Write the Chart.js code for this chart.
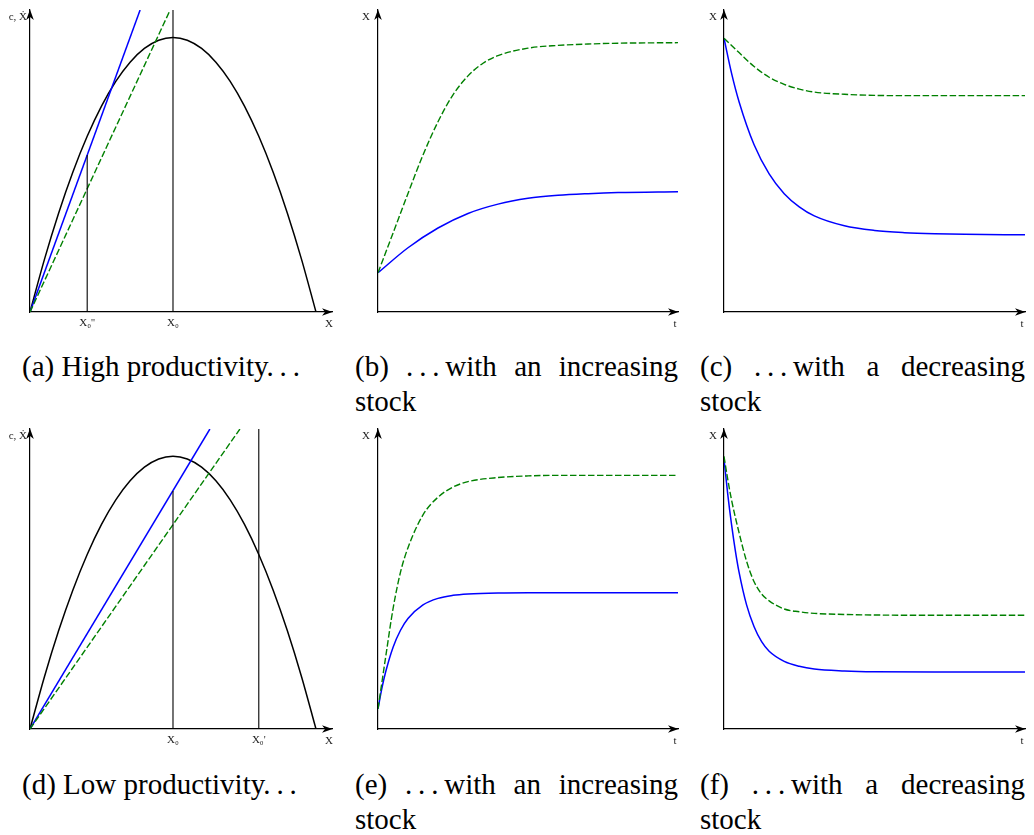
<!DOCTYPE html>
<html><head><meta charset="utf-8">
<script src="https://cdn.jsdelivr.net/npm/chart.js@4"></script>
<style>
html,body{margin:0;padding:0;background:#fff;}
body{width:1034px;height:835px;position:relative;overflow:hidden;font-family:"Liberation Serif","Times New Roman",serif;}
canvas.panel{position:absolute;}
.cap{position:absolute;font-size:29px;line-height:35px;color:#000;}
</style></head><body>
<canvas id="pa" class="panel"></canvas>
<canvas id="pb" class="panel"></canvas>
<canvas id="pc" class="panel"></canvas>
<canvas id="pd" class="panel"></canvas>
<canvas id="pe" class="panel"></canvas>
<canvas id="pf" class="panel"></canvas>
<div class="cap" style="left:22px;top:349px;white-space:nowrap">(a) High productivity.&#8201;.&#8201;.</div>
<div class="cap" style="left:355px;top:349px;width:323px;text-align:justify">(b) .&#8201;.&#8201;.&#8201;with an increasing stock</div>
<div class="cap" style="left:700px;top:349px;width:325px;text-align:justify">(c) .&#8201;.&#8201;.&#8201;with a decreasing stock</div>
<div class="cap" style="left:22px;top:767px;white-space:nowrap">(d) Low productivity.&#8201;.&#8201;.</div>
<div class="cap" style="left:355px;top:767px;width:323px;text-align:justify">(e) .&#8201;.&#8201;.&#8201;with an increasing stock</div>
<div class="cap" style="left:700px;top:767px;width:325px;text-align:justify">(f) .&#8201;.&#8201;.&#8201;with a decreasing stock</div>
<script>
// ---------- data ----------
// growth curve (panels a and d), X on horizontal axis
const growthX = [0,0.05,0.1,0.15,0.2,0.25,0.3,0.35,0.4,0.45,0.5,0.55,0.6,0.65,0.7,0.75,0.8,0.85,0.9,0.95,1];
const growthHighY = [0,0.19,0.36,0.51,0.64,0.75,0.84,0.91,0.96,0.99,1,0.99,0.96,0.91,0.84,0.75,0.64,0.51,0.36,0.19,0];
const growthLowY  = [0,0.19,0.36,0.51,0.64,0.75,0.84,0.91,0.96,0.99,1,0.99,0.96,0.91,0.84,0.75,0.64,0.51,0.36,0.19,0];
// harvest rays, panel (a)
const rayHighBlueX = [0,0.385];  const rayHighBlueY = [0,1.1];
const rayHighGreenX = [0,0.49];  const rayHighGreenY = [0,1.1];
// harvest rays, panel (d)
const rayLowBlueX = [0,0.629];   const rayLowBlueY = [0,1.1];
const rayLowGreenX = [0,0.734];  const rayLowGreenY = [0,1.1];
// vertical markers
const markA = [{x:0.2, top:0.572}, {x:0.5, top:1.1}];
const markD = [{x:0.5, top:0.873}, {x:0.8, top:1.1}];
const tickValsA = [0.2, 0.5];  const tickLabelsA = ["X\u2080''", "X\u2080"];
const tickValsD = [0.5, 0.8];  const tickLabelsD = ["X\u2080", "X\u2080'"];
// panel (b)
const tBGreen = [0,0.5,1,1.5,2,2.5,3,3.5,4,5,6,7,8,10];
const bGreen  = [0.143,0.287,0.432,0.572,0.693,0.791,0.860,0.906,0.934,0.961,0.971,0.976,0.979,0.981];
const tBBlue  = [0,1,2,3,4,5,6,7,8,10];
const bBlue   = [0.143,0.234,0.306,0.359,0.393,0.414,0.425,0.431,0.435,0.438];
// panel (c)
const tCGreen = [0,0.5,1,1.5,2,2.5,3,4,5,6,8,10];
const cGreen  = [0.997,0.945,0.894,0.855,0.829,0.812,0.801,0.793,0.789,0.788,0.788,0.788];
const tCBlue  = [0,0.25,0.5,1,1.5,2,2.5,3,4,5,6,7,8,10];
const cBlue   = [0.997,0.870,0.766,0.609,0.503,0.431,0.383,0.350,0.314,0.297,0.289,0.285,0.283,0.281];
// panel (e)
const tEGreen = [0,0.25,0.5,0.75,1,1.5,2,2.5,3,4,5,6,8,10];
const eGreen  = [0.074,0.26,0.44,0.575,0.665,0.785,0.85,0.887,0.907,0.922,0.928,0.93,0.93,0.93];
const tEBlue  = [0,0.125,0.25,0.5,0.75,1,1.5,2,2.5,3,4,5,6,8,10];
const eBlue   = [0.074,0.147,0.207,0.299,0.362,0.405,0.455,0.479,0.490,0.495,0.499,0.5,0.5,0.5,0.5];
// panel (f)
const tFGreen = [0,0.125,0.25,0.5,0.75,1,1.25,1.5,2,2.5,3,4,5,7,10];
const fGreen  = [1.0,0.915,0.84,0.72,0.615,0.54,0.495,0.47,0.44,0.43,0.424,0.42,0.418,0.417,0.417];
const tFBlue  = [0,0.125,0.25,0.375,0.5,0.75,1,1.25,1.5,2,2.5,3,4,5,7,10];
const fBlue   = [0.99,0.86,0.75,0.655,0.575,0.455,0.375,0.32,0.285,0.248,0.23,0.22,0.213,0.21,0.209,0.209];

// ---------- helpers ----------
const BLUE = '#0000ff', GREEN = '#008000', BLACK = '#000000';
const zip = (xs, ys) => xs.map((x, i) => ({x, y: ys[i]}));
const curve = (xs, ys, color, dashed) => ({
  data: zip(xs, ys), borderColor: color, borderWidth: dashed ? 1.4 : 1.5,
  borderDash: dashed ? [6.5, 2.5] : [], pointRadius: 0, fill: false,
  cubicInterpolationMode: 'monotone'
});
const straight = (xs, ys, color, dashed, w) => ({
  data: zip(xs, ys), borderColor: color, borderWidth: w || (dashed ? 1.4 : 1.5),
  borderDash: dashed ? [6.5, 2.5] : [], pointRadius: 0, fill: false, tension: 0
});
const marks = (list) => list.map(m => straight([m.x, m.x], [0, m.top], BLACK, false, 1.1));

function arrowHead(ctx, x, y, ang) {
  ctx.save();
  ctx.translate(x, y); ctx.rotate(ang);
  ctx.beginPath();
  ctx.moveTo(0.5, 0);
  ctx.lineTo(-10, -3.8);
  ctx.lineTo(-7, 0);
  ctx.lineTo(-10, 3.8);
  ctx.closePath();
  ctx.fill();
  ctx.restore();
}

const axisDecor = {
  id: 'axisDecor',
  afterDraw(chart, args, o) {
    const {ctx, chartArea: a} = chart;
    ctx.save();
    ctx.fillStyle = '#000';
    arrowHead(ctx, a.right, a.bottom, 0);
    arrowHead(ctx, a.left, a.top, -Math.PI / 2);
    ctx.fillStyle = '#222';
    ctx.font = '11px "Liberation Serif", "DejaVu Serif", serif';
    ctx.textBaseline = 'middle';
    ctx.textAlign = 'right';
    ctx.fillText(o.yLabel, a.left - o.yOff, a.top + 7);
    ctx.textAlign = 'center';
    ctx.fillText(o.xLabel, a.right - 3, a.bottom + 12);
    ctx.restore();
  }
};

function makeChart(id, rect, xmax, datasets, labels, tickVals, tickLabels) {
  const padL = 30, padT = 10, padR = 8, padB = 30;
  const w = rect.right - rect.left + padL + padR;
  const h = rect.bottom - rect.top + padT + padB;
  const cv = document.getElementById(id);
  cv.width = w; cv.height = h;
  cv.style.left = (rect.left - padL) + 'px';
  cv.style.top = (rect.top - padT) + 'px';
  cv.style.width = w + 'px'; cv.style.height = h + 'px';
  new Chart(cv, {
    type: 'line',
    data: {datasets},
    plugins: [axisDecor],
    options: {
      responsive: false, animation: false, devicePixelRatio: 1,
      layout: {padding: {left: 0, top: padT, right: padR, bottom: 0}, autoPadding: false},
      plugins: {legend: {display: false}, tooltip: {enabled: false},
                axisDecor: labels},
      events: [],
      scales: {
        x: {
          type: 'linear', min: 0, max: xmax,
          grid: {display: false, drawTicks: false},
          border: {display: true, color: '#000', width: 1.2},
          ticks: {display: !!tickVals, autoSkip: false, maxRotation: 0, padding: 5,
                  color: '#222', font: {family: '"Liberation Serif", "DejaVu Serif", serif', size: 11},
                  callback: (v, i) => tickLabels ? tickLabels[i] : ''},
          afterBuildTicks: s => { s.ticks = (tickVals || []).map(v => ({value: v})); },
          afterFit: s => { s.height = padB; }
        },
        y: {
          type: 'linear', min: 0, max: 1.1,
          grid: {display: false, drawTicks: false},
          border: {display: true, color: '#000', width: 1.2},
          ticks: {display: false},
          afterFit: s => { s.width = padL; }
        }
      }
    }
  });
}

const Ylab = 'c, \u1E8A';
makeChart('pa', {left: 30, top: 10, right: 332, bottom: 312}, 1.056, [
  ...marks(markA),
  straight(rayHighGreenX, rayHighGreenY, GREEN, true),
  straight(rayHighBlueX, rayHighBlueY, BLUE, false),
  curve(growthX, growthHighY, BLACK, false)
], {yLabel: Ylab, xLabel: 'X', yOff: 3}, tickValsA, tickLabelsA);

makeChart('pb', {left: 378, top: 10, right: 678, bottom: 312}, 10, [
  curve(tBGreen, bGreen, GREEN, true),
  curve(tBBlue, bBlue, BLUE, false)
], {yLabel: 'X', xLabel: 't', yOff: 8});

makeChart('pc', {left: 724, top: 10, right: 1025, bottom: 312}, 10, [
  curve(tCGreen, cGreen, GREEN, true),
  curve(tCBlue, cBlue, BLUE, false)
], {yLabel: 'X', xLabel: 't', yOff: 7});

makeChart('pd', {left: 30, top: 429, right: 332, bottom: 729}, 1.056, [
  ...marks(markD),
  straight(rayLowGreenX, rayLowGreenY, GREEN, true),
  straight(rayLowBlueX, rayLowBlueY, BLUE, false),
  curve(growthX, growthLowY, BLACK, false)
], {yLabel: Ylab, xLabel: 'X', yOff: 3}, tickValsD, tickLabelsD);

makeChart('pe', {left: 378, top: 429, right: 678, bottom: 729}, 10, [
  curve(tEGreen, eGreen, GREEN, true),
  curve(tEBlue, eBlue, BLUE, false)
], {yLabel: 'X', xLabel: 't', yOff: 8});

makeChart('pf', {left: 724, top: 429, right: 1025, bottom: 729}, 10, [
  curve(tFGreen, fGreen, GREEN, true),
  curve(tFBlue, fBlue, BLUE, false)
], {yLabel: 'X', xLabel: 't', yOff: 7});
</script>
</body></html>
